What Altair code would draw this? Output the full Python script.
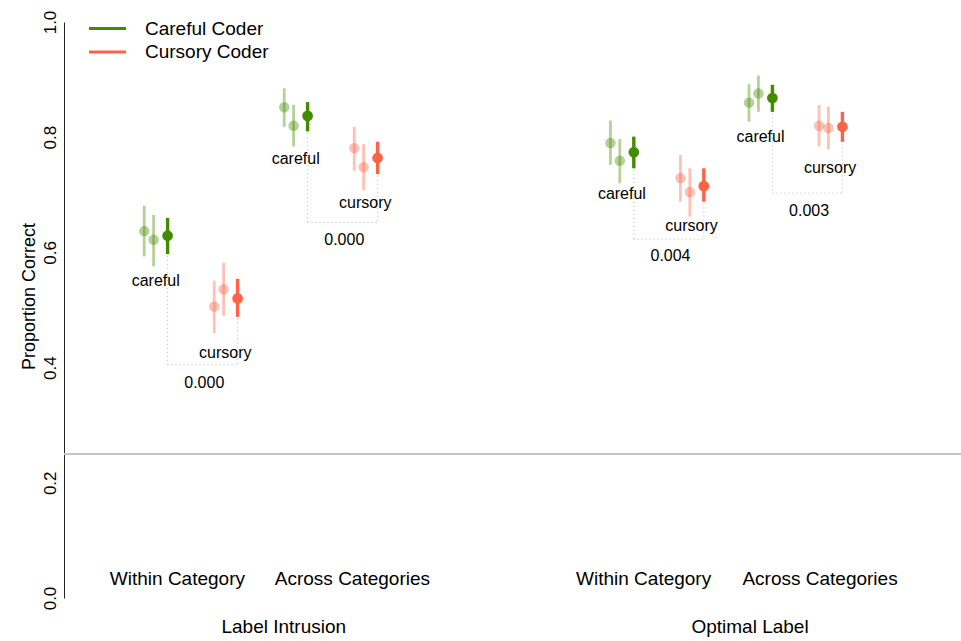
import altair as alt
import pandas as pd

# ---------------- data ----------------
conditions = ["Within Category", "Across Categories", "Within Category", "Across Categories"]
panels = ["Label Intrusion", "Optimal Label"]
coders = ["Careful Coder", "Cursory Coder"]
colors = ["#458B00", "#FF6347"]

group_x = [0.99, 1.99, 4.32, 5.31]          # centre of each condition group (x units)
cond_label_x = [0.81, 2.06, 4.14, 5.40]
panel_label_x = [1.57, 4.90]

# three estimates per coder per group: two light (sub-samples) + one dark (pooled)
careful_est = [[0.637, 0.622, 0.629], [0.852, 0.820, 0.837], [0.790, 0.759, 0.774], [0.860, 0.876, 0.868]]
careful_lo = [[0.593, 0.576, 0.597], [0.818, 0.784, 0.810], [0.752, 0.720, 0.746], [0.827, 0.844, 0.844]]
careful_hi = [[0.681, 0.665, 0.660], [0.885, 0.856, 0.861], [0.829, 0.797, 0.801], [0.892, 0.907, 0.891]]
cursory_est = [[0.506, 0.536, 0.520], [0.781, 0.748, 0.764], [0.729, 0.705, 0.715], [0.820, 0.816, 0.818]]
cursory_lo = [[0.460, 0.490, 0.488], [0.742, 0.708, 0.736], [0.688, 0.662, 0.688], [0.784, 0.779, 0.792]]
cursory_hi = [[0.551, 0.582, 0.554], [0.818, 0.788, 0.792], [0.769, 0.746, 0.746], [0.856, 0.853, 0.844]]

p_values = ["0.000", "0.000", "0.004", "0.003"]
careful_label_y = [0.551, 0.762, 0.701, 0.800]
cursory_label_y = [0.426, 0.685, 0.646, 0.747]
bracket_y = [0.405, 0.652, 0.623, 0.703]
p_label_y = [0.373, 0.622, 0.594, 0.672]
chance_level = 0.25

coder_offset = [-0.25, 0.25]
sub_offset = [-0.167, -0.10, 0.0]
kinds = ["light", "light", "dark"]

FONT = "Liberation Sans"
W, H = 897, 576
X_MAX = 6.407

# ---------------- tables ----------------
rows = []
for g in range(4):
    for c, (est, lo, hi) in enumerate([(careful_est, careful_lo, careful_hi),
                                        (cursory_est, cursory_lo, cursory_hi)]):
        for k in range(3):
            rows.append({
                "x": group_x[g] + coder_offset[c] + sub_offset[k],
                "est": est[g][k], "lo": lo[g][k], "hi": hi[g][k],
                "coder": coders[c], "kind": kinds[k],
            })
pts = pd.DataFrame(rows)
light = pts[pts.kind == "light"]
dark = pts[pts.kind == "dark"]

brk_rows = []
hbr_rows = []
txt_rows = []
for g in range(4):
    xc = group_x[g] + coder_offset[0]
    xu = group_x[g] + coder_offset[1]
    brk_rows.append({"x": xc, "y": careful_lo[g][2] - 0.003, "y2": bracket_y[g]})
    brk_rows.append({"x": xu, "y": cursory_lo[g][2] - 0.003, "y2": bracket_y[g]})
    hbr_rows.append({"x": xc, "x2": xu, "y": bracket_y[g]})
    txt_rows.append({"x": xc - 0.085, "y": careful_label_y[g], "t": "careful"})
    txt_rows.append({"x": xu - 0.088, "y": cursory_label_y[g], "t": "cursory"})
    txt_rows.append({"x": group_x[g] + 0.012, "y": p_label_y[g], "t": p_values[g]})
brk = pd.DataFrame(brk_rows)
hbr = pd.DataFrame(hbr_rows)
txt = pd.DataFrame(txt_rows)

cat = pd.DataFrame({"x": cond_label_x, "y": [0.033] * 4, "t": conditions})
pan = pd.DataFrame({"x": panel_label_x, "y": [-0.05] * 2, "t": panels})

# ---------------- scales ----------------
xs = alt.Scale(domain=[0, X_MAX], nice=False, zero=False)
ys = alt.Scale(domain=[0, 1], nice=False, zero=False)
X = lambda f="x": alt.X(f, type="quantitative", scale=xs, axis=None)

yaxis = alt.Axis(
    values=[0, 0.2, 0.4, 0.6, 0.8, 1.0], format=".1f", grid=False,
    ticks=False, tickSize=0, domainColor="#222222", domainWidth=1,
    labelAngle=270, labelAlign="center", labelBaseline="middle", labelPadding=14,
    labelFontSize=17, labelFont=FONT, labelColor="black", labelOverlap=False,
    title="Proportion Correct", titleFont=FONT, titleFontSize=18, titleFontWeight="normal",
    titleColor="black", titleAngle=270, titleAlign="center", titleBaseline="middle",
    titleX=-35, titleY=274,
)
color = alt.Color(
    "coder:N", scale=alt.Scale(domain=coders, range=colors),
    legend=alt.Legend(
        title=None, orient="none", legendX=34, legendY=-3,
        symbolType="M-3.7,0H3.7", symbolSize=100, symbolStrokeWidth=3,
        labelFontSize=19, labelFont=FONT, labelColor="black", labelOffset=28,
        rowPadding=3.5, padding=0,
    ),
)

chance = alt.Chart(pd.DataFrame({"y": [chance_level]})).mark_rule(
    color="#c4c4c4", strokeWidth=2).encode(y=alt.Y("y:Q", scale=ys, axis=yaxis))

dark_ci = alt.Chart(dark).mark_rule(strokeWidth=3.4).encode(
    x=X(), y=alt.Y("lo:Q", scale=ys), y2="hi:Q", color=color)
light_ci = alt.Chart(light).mark_rule(strokeWidth=2.8, opacity=0.4).encode(
    x=X(), y=alt.Y("lo:Q", scale=ys), y2="hi:Q", color=alt.Color("coder:N", legend=None))
light_pt = alt.Chart(light).mark_circle(size=110, opacity=0.4).encode(
    x=X(), y=alt.Y("est:Q", scale=ys), color=alt.Color("coder:N", legend=None))
dark_pt = alt.Chart(dark).mark_circle(size=115, opacity=1).encode(
    x=X(), y=alt.Y("est:Q", scale=ys), color=alt.Color("coder:N", legend=None))

vbr = alt.Chart(brk).mark_rule(color="#b8b8b8", strokeWidth=1, strokeDash=[1, 3]).encode(
    x=X(), y=alt.Y("y:Q", scale=ys), y2="y2:Q")
hb = alt.Chart(hbr).mark_rule(color="#b8b8b8", strokeWidth=1, strokeDash=[1, 3]).encode(
    x=X(), x2="x2:Q", y=alt.Y("y:Q", scale=ys))

labels = alt.Chart(txt).mark_text(font=FONT, fontSize=16, color="black",
                                  align="center", baseline="middle").encode(
    x=X(), y=alt.Y("y:Q", scale=ys), text="t:N")
cat_txt = alt.Chart(cat).mark_text(font=FONT, fontSize=19, color="black",
                                   align="center", baseline="middle").encode(
    x=X(), y=alt.Y("y:Q", scale=ys), text="t:N")
pan_txt = alt.Chart(pan).mark_text(font=FONT, fontSize=19, color="black",
                                   align="center", baseline="middle").encode(
    x=X(), y=alt.Y("y:Q", scale=ys), text="t:N")

chart = alt.layer(
    chance, dark_ci, light_ci, light_pt, dark_pt, vbr, hb, labels, cat_txt, pan_txt
).resolve_scale(color="shared").properties(
    width=W, height=H,
    autosize=alt.AutoSizeParams(type="none"),
    padding={"left": 64, "top": 22, "right": 0, "bottom": 43},
    background="white",
).configure_view(stroke=None)

chart.save("out.html", embed_options={"renderer": "svg", "actions": False})
